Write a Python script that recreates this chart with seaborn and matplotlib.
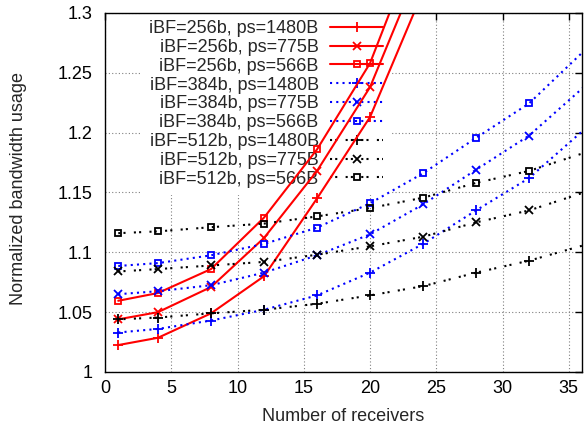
import seaborn as sns
from matplotlib import pyplot as plt
import pandas as pd

# receivers on the x axis
x_red = [1, 4, 8, 12, 16, 20, 24]
x_all = [1, 4, 8, 12, 16, 20, 24, 28, 32, 40]

# iBF=256b
y256_1480 = [1.0225, 1.0286, 1.049, 1.080, 1.145, 1.213, 1.318]
y256_775 = [1.044, 1.050, 1.071, 1.112, 1.168, 1.238, 1.345]
y256_566 = [1.0595, 1.066, 1.086, 1.129, 1.186, 1.258, 1.372]

# iBF=384b
y384_1480 = [1.033, 1.036, 1.043, 1.052, 1.064, 1.083, 1.107, 1.135, 1.162, 1.240]
y384_775 = [1.065, 1.0675, 1.0725, 1.083, 1.0975, 1.115, 1.140, 1.169, 1.1975, 1.276]
y384_566 = [1.0886, 1.091, 1.0975, 1.107, 1.1206, 1.141, 1.166, 1.1956, 1.2244, 1.309]

# iBF=512b
y512_1480 = [1.044, 1.0455, 1.049, 1.052, 1.057, 1.064, 1.0717, 1.083, 1.093, 1.118]
y512_775 = [1.084, 1.086, 1.089, 1.092, 1.098, 1.105, 1.113, 1.125, 1.135, 1.164]
y512_566 = [1.116, 1.1175, 1.121, 1.124, 1.130, 1.137, 1.1456, 1.158, 1.168, 1.197]

series = [
    ("iBF=256b, ps=1480B", x_red, y256_1480),
    ("iBF=256b, ps=775B", x_red, y256_775),
    ("iBF=256b, ps=566B", x_red, y256_566),
    ("iBF=384b, ps=1480B", x_all, y384_1480),
    ("iBF=384b, ps=775B", x_all, y384_775),
    ("iBF=384b, ps=566B", x_all, y384_566),
    ("iBF=512b, ps=1480B", x_all, y512_1480),
    ("iBF=512b, ps=775B", x_all, y512_775),
    ("iBF=512b, ps=566B", x_all, y512_566),
]

colors = ["red"] * 3 + ["blue"] * 3 + ["black"] * 3
styles = ["-"] * 3 + [(0, (1, 2))] * 3 + [(0, (1, 1.5, 1, 4))] * 3
markers = ["+", "x", "s"] * 3
msizes = {"+": 6.5, "x": 5.5, "s": 5}

sns.set_theme(style="white")
plt.rcParams["font.family"] = ["Liberation Sans", "DejaVu Sans"]

fig, ax = plt.subplots(figsize=(5.84, 4.30), dpi=100)
fig.subplots_adjust(left=0.1798, right=0.9966, bottom=0.1349, top=0.9698)

for (name, xs, ys), c, ls, m in zip(series, colors, styles, markers):
    df = pd.DataFrame({"x": xs, "y": ys})
    sns.lineplot(x="x", y="y", data=df, ax=ax, color=c, linestyle=ls,
                 linewidth=1.5, marker=m, markersize=msizes[m],
                 markerfacecolor="none", markeredgecolor=c,
                 markeredgewidth=1.3, label=name)

ax.set_xlim(0, 36)
ax.set_ylim(1, 1.3)
ax.set_xticks(range(0, 36, 5))
ax.set_yticks([1, 1.05, 1.1, 1.15, 1.2, 1.25, 1.3])
ax.set_yticklabels(["1", "1.05", "1.1", "1.15", "1.2", "1.25", "1.3"])
ax.tick_params(direction="in", length=5, width=1, top=True, right=True,
               labelsize=13, colors="black")
ax.tick_params(axis="y", pad=9)
ax.tick_params(axis="x", pad=6)

ax.set_axisbelow(True)
ax.grid(True, color="gray", linestyle=(0, (1, 2)), linewidth=0.8)
for s in ax.spines.values():
    s.set_color("black")
    s.set_linewidth(1)

ax.set_xlabel("Number of receivers", fontsize=13, labelpad=8)
ax.set_ylabel("Normalized bandwidth usage", fontsize=13)
ax.yaxis.set_label_coords(-0.163, 0.51)

leg = ax.legend(loc="upper right", bbox_to_anchor=(0.5975, 1.0),
                borderaxespad=0, borderpad=0.4, markerfirst=False,
                handlelength=2.9, handletextpad=0.65, labelspacing=0.1,
                fontsize=13, frameon=True, facecolor="white",
                edgecolor="none", framealpha=1, fancybox=False)
leg.set_zorder(1.5)

plt.savefig("out.png", dpi=100)
